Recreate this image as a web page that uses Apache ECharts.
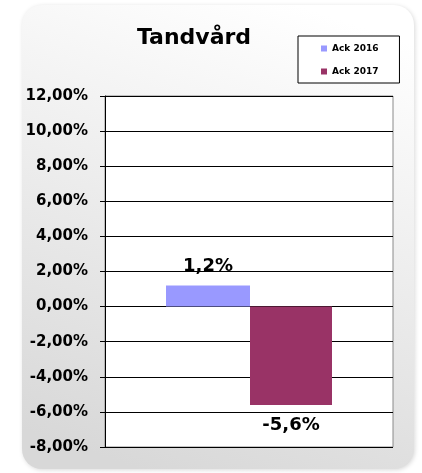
<!DOCTYPE html>
<html>
<head>
<meta charset="utf-8">
<script src="https://cdn.jsdelivr.net/npm/echarts@6/dist/echarts.min.js"></script>
<style>
  html, body { margin: 0; padding: 0; background: #ffffff; }
  #main { width: 422px; height: 473px; }
</style>
</head>
<body>
<div id="main"></div>
<script>
// data
const categories = ['Tandvård'];
const seriesNames = ['Ack 2016', 'Ack 2017'];
const values2016 = [1.2];
const values2017 = [-5.6];
const seriesColors = ['#9999FF', '#993366'];
const yMin = -8, yMax = 12, yStep = 2;

const fmtComma = (v, d) => v.toFixed(d).replace('.', ',');

const chart = echarts.init(document.getElementById('main'));

const labelFont = { fontFamily: 'DejaVu Sans, sans-serif', fontWeight: 'bold', color: '#000' };

const option = {
  backgroundColor: '#ffffff',
  graphic: [
    {
      type: 'rect',
      z: -10,
      shape: { x: 22, y: 5, width: 392, height: 464, r: 20 },
      style: {
        fill: new echarts.graphic.LinearGradient(0.7, 0, 0.3, 1, [
          { offset: 0, color: '#ffffff' },
          { offset: 1, color: '#d8d8d8' }
        ]),
        shadowBlur: 4,
        shadowColor: 'rgba(0,0,0,0.15)',
        shadowOffsetX: 1,
        shadowOffsetY: 1
      }
    }
  ],
  title: {
    text: 'Tandvård',
    left: 189,
    top: 22,
    textAlign: 'center',
    textStyle: { ...labelFont, fontSize: 22 }
  },
  legend: {
    orient: 'vertical',
    left: 298,
    top: 36,
    padding: [8, 21, 7, 23],
    itemGap: 14,
    itemWidth: 6,
    itemHeight: 6,
    icon: 'rect',
    backgroundColor: '#ffffff',
    borderColor: '#000000',
    borderWidth: 1,
    textStyle: { ...labelFont, fontSize: 9 },
    data: seriesNames
  },
  grid: {
    left: 105,
    right: 29,
    top: 96,
    bottom: 26,
    show: true,
    backgroundColor: '#ffffff',
    borderColor: '#8a8a8a',
    borderWidth: 1
  },
  xAxis: {
    type: 'category',
    data: categories,
    axisLine: { show: false },
    axisTick: { show: false },
    axisLabel: { show: false }
  },
  yAxis: {
    type: 'value',
    min: yMin,
    max: yMax,
    interval: yStep,
    axisLine: { show: true, lineStyle: { color: '#000', width: 1 } },
    axisTick: { show: true, length: 5, lineStyle: { color: '#000' } },
    splitLine: { show: true, lineStyle: { color: '#000', width: 1 } },
    axisLabel: {
      ...labelFont,
      fontSize: 15,
      margin: 17,
      formatter: v => fmtComma(v, 2) + '%'
    }
  },
  series: [
    {
      name: seriesNames[0],
      type: 'bar',
      data: values2016,
      barWidth: 84,
      barGap: '0%',
      itemStyle: { color: seriesColors[0] },
      label: {
        show: true,
        position: 'top',
        distance: 10,
        ...labelFont,
        fontSize: 18,
        formatter: p => fmtComma(p.value, 1) + '%'
      }
    },
    {
      name: seriesNames[1],
      type: 'bar',
      data: values2017,
      barWidth: 82,
      barGap: '0%',
      itemStyle: { color: seriesColors[1] },
      label: {
        show: true,
        position: 'bottom',
        distance: 11,
        ...labelFont,
        fontSize: 18,
        formatter: p => fmtComma(p.value, 1) + '%'
      }
    }
  ]
};

chart.setOption(option);
</script>
</body>
</html>
